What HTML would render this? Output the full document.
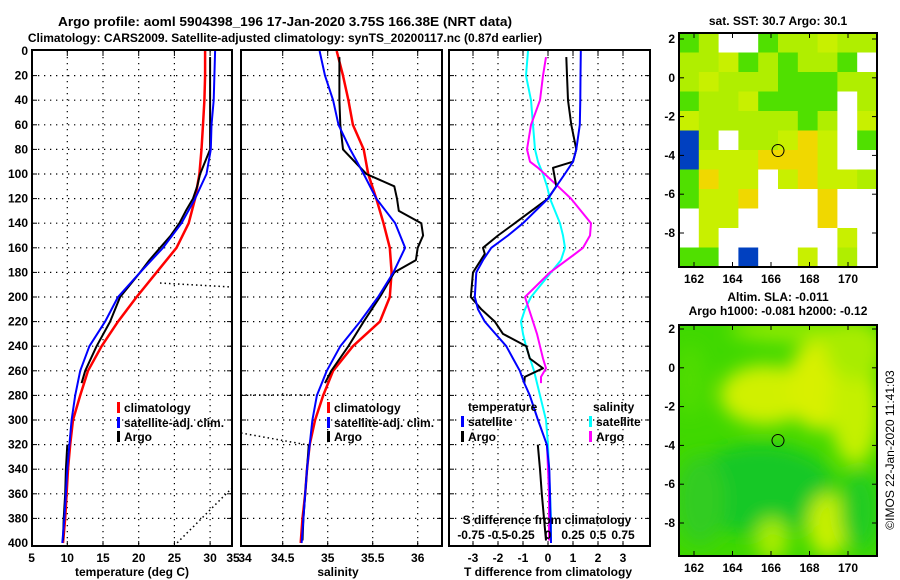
<!DOCTYPE html>
<html><head><meta charset="utf-8"><style>
body{margin:0;background:#fff;width:900px;height:580px;overflow:hidden}
svg{display:block;font-family:"Liberation Sans",Arial,sans-serif;font-weight:bold}
text{font-size:12px;fill:#000}
</style></head><body>
<svg id="chart" width="900" height="580" viewBox="0 0 900 580">
<text x="58" y="26" textLength="454" lengthAdjust="spacingAndGlyphs" style="font-size:13px">Argo profile: aoml 5904398_196 17-Jan-2020 3.75S 166.38E (NRT data)</text>
<text x="285" y="42" text-anchor="middle" style="font-size:12px">Climatology: CARS2009. Satellite-adjusted climatology: synTS_20200117.nc (0.87d earlier)</text>
<g id="plots"></g>
<g id="maps"></g>
<text transform="translate(894,450) rotate(-90)" text-anchor="middle" style="font-weight:normal;font-size:12px">©IMOS 22-Jan-2020 11:41:03</text>
</svg>
<script>
// ---- data ----
const depthTicks=[0,20,40,60,80,100,120,140,160,180,200,220,240,260,280,300,320,340,360,380,400];
const tempTicks=[5,10,15,20,25,30,35];
const salTicks=[34,34.5,35,35.5,36];
const diffTicks=[-3,-2,-1,0,1,2,3];
const sDiffTicks=["-0.75","-0.5","-0.25","0","0.25","0.5","0.75"];
const depthClim=[0,20,40,60,80,100,120,140,160,180,200,220,240,260,280,300,320,340,360,380,400];
const tempClim=[29.3,29.3,29.2,29.0,28.8,28.5,27.9,27.0,25.3,22.5,19.7,17.1,14.8,12.9,11.8,10.8,10.4,10.1,9.9,9.7,9.4];
const tempSat=[30.7,30.6,30.5,30.2,30.1,29.5,27.9,26.0,23.4,20.2,17.1,15.3,13.1,11.8,11.1,10.6,10.3,10.0,9.8,9.6,9.3];
const salClim=[35.10,35.17,35.23,35.28,35.40,35.45,35.54,35.62,35.69,35.71,35.69,35.58,35.28,35.06,34.95,34.86,34.80,34.77,34.75,34.72,34.70];
const salSat=[34.91,34.97,35.06,35.12,35.25,35.40,35.54,35.75,35.86,35.73,35.56,35.36,35.14,34.99,34.88,34.83,34.80,34.77,34.75,34.73,34.71];
const depthArgo=[5,20,40,60,80,100,110,120,130,140,150,160,170,180,200,220,240,260,270,null,320,340,360,380,398];
const tempArgo=[30.0,30.0,30.0,30.0,30.0,28.6,28.2,27.6,26.6,25.7,24.5,23.0,21.5,20.2,17.4,16.0,14.1,12.5,12.0,null,10.0,9.8,9.7,9.5,9.4];
const salArgo=[35.13,35.13,35.13,35.14,35.17,35.43,35.74,35.77,35.79,36.04,36.06,36.0,35.98,35.74,35.58,35.40,35.23,35.04,34.97,null,34.79,34.77,34.75,34.73,34.72];
const depthD=[0,20,40,60,80,90,100,110,120,140,150,160,170,180,200,210,220,230,240,250,260,270,280,300,320,340,360,380,400];
const dTsat=[1.31,1.30,1.29,1.27,1.13,1.0,0.67,0.33,0,-1.0,-1.6,-2.27,-2.6,-2.87,-2.93,-2.8,-2.53,-2.1,-1.67,-1.4,-1.13,-0.95,-0.73,-0.4,-0.05,0.05,0.08,0.1,0.12];
const dSsat=[-0.2,-0.22,-0.17,-0.15,-0.13,-0.1,-0.05,-0.01,0.02,0.12,0.15,0.17,0.13,0.03,-0.17,-0.23,-0.27,-0.25,-0.22,-0.18,-0.14,-0.11,-0.08,-0.02,0,0.01,0.02,0.03,0.03];
const depthDA=[5,20,40,60,80,90,95,110,120,140,150,160,165,180,200,210,220,230,240,250,258,265,270,null,320,340,360,380,398];
const dTargo=[0.73,0.76,0.8,0.93,1.13,1.0,0.2,0.33,0,-1.33,-2.0,-2.6,-2.53,-3.0,-3.09,-2.67,-2.13,-1.8,-0.87,-0.73,-0.2,-0.93,-0.95,null,-0.41,-0.32,-0.25,-0.16,-0.08];
const dSargo=[-0.02,-0.05,-0.08,-0.17,-0.21,-0.18,-0.1,0.1,0.23,0.43,0.42,0.35,0.27,0.02,-0.23,-0.19,-0.15,-0.11,-0.08,-0.05,-0.02,-0.07,-0.07,null,-0.01,0.0,0.01,0.01,0.01];

const NS='http://www.w3.org/2000/svg';
function mk(tag,attrs,parent){const e=document.createElementNS(NS,tag);for(const k in attrs)e.setAttribute(k,attrs[k]);parent.appendChild(e);return e;}
const plots=document.getElementById('plots');
const Y0=51,YS=1.23,YB=546;
const yD=d=>Y0+d*YS;
const panels=[
 {x0:32,x1:232,f:v=>31.6+(v-5)*7.14,name:'temperature-panel'},
 {x0:241,x1:442,f:v=>327.7+(v-35)*90,name:'salinity-panel'},
 {x0:449,x1:650,f:v=>548+v*25,name:'difference-panel'}];
const fS=v=>548+v*100;
function frame(p,xt){
  const g=mk('g',{},plots);
  
  
  depthTicks.forEach(d=>{if(d>0&&d<400){
    const l=mk('line',{x1:p.x0,x2:p.x1,y1:yD(d),y2:yD(d),stroke:'#000','stroke-width':1.2,'stroke-dasharray':'1.3,4.7'},g);
    
    mk('line',{x1:p.x0,x2:p.x0+5,y1:yD(d),y2:yD(d),stroke:'#000'},g);
    mk('line',{x1:p.x1-5,x2:p.x1,y1:yD(d),y2:yD(d),stroke:'#000'},g);}});
  xt.forEach(v=>{const x=p.f(v);if(x>p.x0+2&&x<p.x1-2){
    const l=mk('line',{x1:x,x2:x,y1:Y0,y2:YB,stroke:'#000','stroke-width':1.2,'stroke-dasharray':'1.3,4.7'},g);
    
    mk('line',{x1:x,x2:x,y1:Y0,y2:Y0+5,stroke:'#000'},g);
    mk('line',{x1:x,x2:x,y1:YB-5,y2:YB,stroke:'#000'},g);}});
  mk('rect',{x:p.x0,y:Y0-1,width:p.x1-p.x0,height:YB-Y0+1,fill:'none',stroke:'#000','stroke-width':2},g);
  return g;
}
function series(g,xs,ds,fx,col,w,name){
  let d='',pen=false;
  for(let i=0;i<xs.length;i++){
    if(xs[i]===null||ds[i]===null){pen=false;continue;}
    d+=(pen?'L':'M')+fx(xs[i]).toFixed(1)+' '+yD(ds[i]).toFixed(1);pen=true;}
  const p=mk('path',{d:d,fill:'none',stroke:col,'stroke-width':w,'stroke-linejoin':'round'},g);
  
  
}
function txt(s,x,y,anchor,parent,name,extra){
  const t=mk('text',Object.assign({x:x,y:y,'text-anchor':anchor||'start'},extra||{}),parent);t.textContent=s;
  
  
  return t;}
function legendEntry(g,x,y,col,label){
  mk('rect',{x:x,y:y-10,width:3,height:11,fill:col},g);
  txt(label,x+7,y,'start',g,'legend-entry');}

// panel 1
let g1=frame(panels[0],tempTicks);
depthTicks.forEach(d=>txt(String(d),28,yD(d)+4,'end',plots,'y-tick-label'));
tempTicks.forEach(v=>txt(String(v),Math.min(panels[0].f(v),233),562,'middle',plots,'x-tick-label'));
txt('temperature (deg C)',132,576,'middle',plots,'x-axis-title');
mk('line',{x1:160,y1:283,x2:232,y2:287,stroke:'#000','stroke-width':1.5,'stroke-dasharray':'1.5,3'},g1);
mk('line',{x1:174,y1:546,x2:232,y2:488,stroke:'#000','stroke-width':1.5,'stroke-dasharray':'1.5,3'},g1);
series(g1,tempClim,depthClim,panels[0].f,'#f00',2.5,'temperature-climatology-line');
series(g1,tempArgo,depthArgo,panels[0].f,'#000',2,'temperature-argo-line');
series(g1,tempSat,depthClim,panels[0].f,'#00f',2,'temperature-satellite-line');
legendEntry(g1,117,412,'#f00','climatology');
legendEntry(g1,117,427,'#00f','satellite-adj. clim.');
legendEntry(g1,117,441,'#000','Argo');

// panel 2
let g2=frame(panels[1],salTicks);
salTicks.forEach(v=>txt(String(v),Math.max(panels[1].f(v),245),562,'middle',plots,'x-tick-label'));
txt('salinity',338,576,'middle',plots,'x-axis-title');
mk('line',{x1:241,y1:395,x2:316,y2:395,stroke:'#000','stroke-width':1.5,'stroke-dasharray':'1.5,3'},g2);
mk('line',{x1:241,y1:433,x2:308,y2:445,stroke:'#000','stroke-width':1.5,'stroke-dasharray':'1.5,3'},g2);
series(g2,salClim,depthClim,panels[1].f,'#f00',2.5,'salinity-climatology-line');
series(g2,salArgo,depthArgo,panels[1].f,'#000',2,'salinity-argo-line');
series(g2,salSat,depthClim,panels[1].f,'#00f',2,'salinity-satellite-line');
legendEntry(g2,327,412,'#f00','climatology');
legendEntry(g2,327,427,'#00f','satellite-adj. clim.');
legendEntry(g2,327,441,'#000','Argo');

// panel 3
let g3=frame(panels[2],diffTicks);
diffTicks.forEach(v=>txt(String(v),panels[2].f(v),562,'middle',plots,'x-tick-label'));
txt('T difference from climatology',548,576,'middle',plots,'x-axis-title');
series(g3,dSsat,depthD,fS,'#0ff',2,'salinity-diff-satellite-line');
series(g3,dSargo,depthDA,fS,'#f0f',2,'salinity-diff-argo-line');
series(g3,dTargo,depthDA,panels[2].f,'#000',2,'temperature-diff-argo-line');
series(g3,dTsat,depthD,panels[2].f,'#00f',2,'temperature-diff-satellite-line');
txt('temperature',468,411,'start',g3,'legend-heading');
txt('salinity',593,411,'start',g3,'legend-heading');
legendEntry(g3,461,426,'#00f','satellite');
legendEntry(g3,461,441,'#000','Argo');
legendEntry(g3,589,426,'#0ff','satellite');
legendEntry(g3,589,441,'#f0f','Argo');
txt('S difference from climatology',547,524,'middle',g3,'secondary-axis-title');
sDiffTicks.forEach((s,i)=>txt(s,[471,498,521,548,573,598,623][i],539,'middle',g3,'secondary-tick-label'));

// ---- maps ----
const maps=document.getElementById('maps');
const lonTicks=[162,164,166,168,170];
const latTicks=[2,0,-2,-4,-6,-8];
const sstGrid=["GLWWGLLYLL","LLYGLGLLGW","LYLLLGGGLL","GLLYGGGGWL","YLLLLLGLWY","BLWLLYOYWG","BYYYOOOYWW","GOYYWYOYYL","GYYOWWWOWW","WYYWWWWOWW","WYWWWWWWYW","GGWBWWYWLW"];
const cmap={W:'#fff',G:'#50e000',L:'#b0ee00',Y:'#c8f000',O:'#f0d800',B:'#0040c0'};
function mapAxes(name){
  const g=mk('g',{},maps);
  
  
  return {g,lx:lon=>694+(lon-162)*19.25};
}
let m1=mapAxes('sst-map');
txt('sat. SST: 30.7 Argo: 30.1',778,25,'middle',maps,'sst-map-title');
const cw=198/10,ch=234/12;
sstGrid.forEach((row,r)=>{for(let c=0;c<row.length;c++){
  mk('rect',{x:679+c*cw,y:33+r*ch,width:cw+0.5,height:ch+0.5,fill:cmap[row[c]]},m1.g);}});
let m2=mapAxes('sla-map');
txt('Altim. SLA: -0.011',778,301,'middle',maps,'sla-map-title-1');
txt('Argo h1000: -0.081 h2000: -0.12',778,315,'middle',maps,'sla-map-title-2');
const defs=mk('defs',{},maps);
const fl=mk('filter',{id:'bl',x:'-50%',y:'-50%',width:'200%',height:'200%'},defs);
mk('feGaussianBlur',{stdDeviation:9},fl);
const cp=mk('clipPath',{id:'cp2'},defs);
mk('rect',{x:679,y:325,width:198,height:231},cp);
const sg=mk('g',{'clip-path':'url(#cp2)'},m2.g);
mk('rect',{x:679,y:325,width:198,height:231,fill:'#40d800'},sg);
const bg=mk('g',{filter:'url(#bl)'},sg);
[[800,330,70,12,'#90ea00'],[765,395,45,30,'#d0f000'],[818,385,30,45,'#d8f000'],[855,410,25,55,'#c4f000'],[855,350,30,30,'#a8ec00'],[690,380,16,35,'#50dc00'],[760,490,75,45,'#18c828'],[700,500,25,45,'#30cc20'],[828,525,20,32,'#c8f000'],[772,540,16,22,'#a8ec00'],[860,510,20,40,'#20cc20']].forEach(e=>mk('ellipse',{cx:e[0],cy:e[1],rx:e[2],ry:e[3],fill:e[4]},bg));
[[33,267,39],[325,556,329]].forEach(([t,b,y2],i)=>{
  const m=i?m2:m1;
  mk('rect',{x:679,y:t,width:198,height:b-t,fill:'none',stroke:'#000','stroke-width':2},m.g);
  latTicks.forEach(la=>{const y=y2+(2-la)*19.4;
    mk('line',{x1:679,x2:684,y1:y,y2:y,stroke:'#000'},m.g);mk('line',{x1:872,x2:877,y1:y,y2:y,stroke:'#000'},m.g);
    txt(String(la),675,y+4,'end',maps,'map-lat-label');});
  lonTicks.forEach(lo=>{const x=m.lx(lo);
    mk('line',{x1:x,x2:x,y1:t,y2:t+5,stroke:'#000'},m.g);mk('line',{x1:x,x2:x,y1:b-5,y2:b,stroke:'#000'},m.g);
    txt(String(lo),x,b+16,'middle',maps,'map-lon-label');});
  const c=mk('circle',{cx:778,cy:y2+(2+3.75)*19.4,r:6,fill:'none',stroke:'#000','stroke-width':1},m.g);
  
  
});
</script>
</body></html>
